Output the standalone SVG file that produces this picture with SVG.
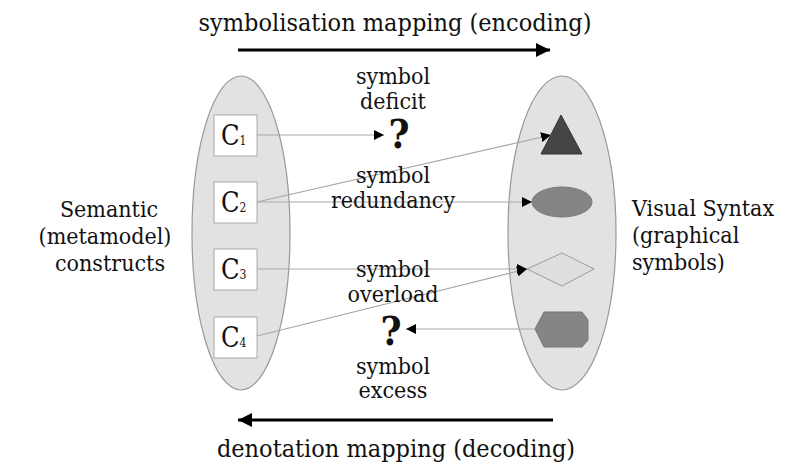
<svg xmlns="http://www.w3.org/2000/svg" width="793" height="468" viewBox="0 0 793 468">
  <style>
    text { font-family: Georgia, "DejaVu Serif Condensed", "Liberation Serif", "Times New Roman", Times, serif; fill: #111; }
    .lbl { font-size: 23px; text-anchor: middle; }
    .side { font-size: 23px; text-anchor: middle; }
    .sider { font-size: 23px; text-anchor: start; }
    .title { font-size: 25px; text-anchor: middle; }
    .cbox { fill: #fff; stroke: #aaa; stroke-width: 1; }
    .cname { font-size: 27px; }
    .sub { font-size: 12px; }
    .set { fill: #e2e2e2; stroke: #999; stroke-width: 1.2; }
    .conn { stroke: #a8a8a8; stroke-width: 1.2; fill: none; }
    .big { stroke: #000; stroke-width: 3; fill: none; }
    .q { font-size: 40px; font-weight: bold; text-anchor: middle; }
  </style>
  <defs>
    <marker id="tip" viewBox="0 0 10 10" refX="10" refY="5" markerWidth="10" markerHeight="10" markerUnits="userSpaceOnUse" orient="auto">
      <path d="M0,0 L10,5 L0,10 z" fill="#000"/>
    </marker>
    <marker id="bigtip" viewBox="0 0 10 10" refX="10" refY="5" markerWidth="14" markerHeight="14" markerUnits="userSpaceOnUse" orient="auto">
      <path d="M0,0 L10,5 L0,10 z" fill="#000"/>
    </marker>
  </defs>

  <!-- mapping directions -->
  <g id="encoding">
    <text class="title" x="395" y="31">symbolisation mapping (encoding)</text>
    <line class="big" x1="238" y1="50" x2="550" y2="50" marker-end="url(#bigtip)"/>
  </g>
  <g id="decoding">
    <line class="big" x1="553" y1="420" x2="238" y2="420" marker-end="url(#bigtip)"/>
    <text class="title" x="396" y="457">denotation mapping (decoding)</text>
  </g>

  <!-- two sets -->
  <g id="semantic-set">
    <ellipse class="set" cx="241" cy="233" rx="49" ry="157"/>
    <text class="side" x="109" y="217">Semantic</text>
    <text class="side" x="105" y="244">(metamodel)</text>
    <text class="side" x="110" y="271">constructs</text>
  </g>
  <g id="syntax-set">
    <ellipse class="set" cx="562" cy="233" rx="54" ry="157"/>
    <text class="sider" x="632" y="216">Visual Syntax</text>
    <text class="sider" x="632" y="243">(graphical</text>
    <text class="sider" x="632" y="270">symbols)</text>
  </g>

  <!-- constructs -->
  <g id="c1">
    <rect class="cbox" x="214" y="115" width="43" height="41"/>
    <text class="cname" x="221" y="145">C<tspan class="sub">1</tspan></text>
  </g>
  <g id="c2">
    <rect class="cbox" x="214" y="182" width="43" height="41"/>
    <text class="cname" x="221" y="212">C<tspan class="sub">2</tspan></text>
  </g>
  <g id="c3">
    <rect class="cbox" x="214" y="249" width="43" height="41"/>
    <text class="cname" x="221" y="279">C<tspan class="sub">3</tspan></text>
  </g>
  <g id="c4">
    <rect class="cbox" x="214" y="317" width="43" height="41"/>
    <text class="cname" x="221" y="347">C<tspan class="sub">4</tspan></text>
  </g>

  <!-- symbols -->
  <g id="triangle">
    <polygon points="561,115 582,154 541,154" fill="#454545" stroke="#333" stroke-width="1"/>
  </g>
  <g id="oval">
    <ellipse cx="562" cy="202" rx="30" ry="15" fill="#858585" stroke="#777" stroke-width="1"/>
  </g>
  <g id="diamond">
    <polygon points="527,269 562,253 594,269 562,286" fill="#dedede" stroke="#9a9a9a" stroke-width="1"/>
  </g>
  <g id="hexagon">
    <polygon points="544,312 582,312 588,320 588,340 582,347 544,347 535,329" fill="#858585" stroke="#777" stroke-width="1"/>
  </g>

  <!-- connectors -->
  <g id="connectors">
    <line class="conn" x1="257" y1="135" x2="384" y2="135" marker-end="url(#tip)"/>
    <line class="conn" x1="257" y1="202" x2="551" y2="135" marker-end="url(#tip)"/>
    <line class="conn" x1="257" y1="202" x2="532" y2="202" marker-end="url(#tip)"/>
    <line class="conn" x1="257" y1="269" x2="527" y2="269" marker-end="url(#tip)"/>
    <line class="conn" x1="257" y1="336" x2="527" y2="269" marker-end="url(#tip)"/>
    <line class="conn" x1="535" y1="329" x2="406" y2="329" marker-end="url(#tip)"/>
  </g>

  <!-- anomaly labels -->
  <g id="deficit">
    <text class="lbl" x="393" y="84">symbol</text>
    <text class="lbl" x="393" y="109">deficit</text>
    <text class="q" x="399" y="148">?</text>
  </g>
  <g id="redundancy">
    <text class="lbl" x="393" y="183">symbol</text>
    <text class="lbl" x="393" y="208">redundancy</text>
  </g>
  <g id="overload">
    <text class="lbl" x="393" y="277">symbol</text>
    <text class="lbl" x="393" y="302">overload</text>
  </g>
  <g id="excess">
    <text class="q" x="391" y="345">?</text>
    <text class="lbl" x="393" y="374">symbol</text>
    <text class="lbl" x="393" y="398">excess</text>
  </g>
</svg>
